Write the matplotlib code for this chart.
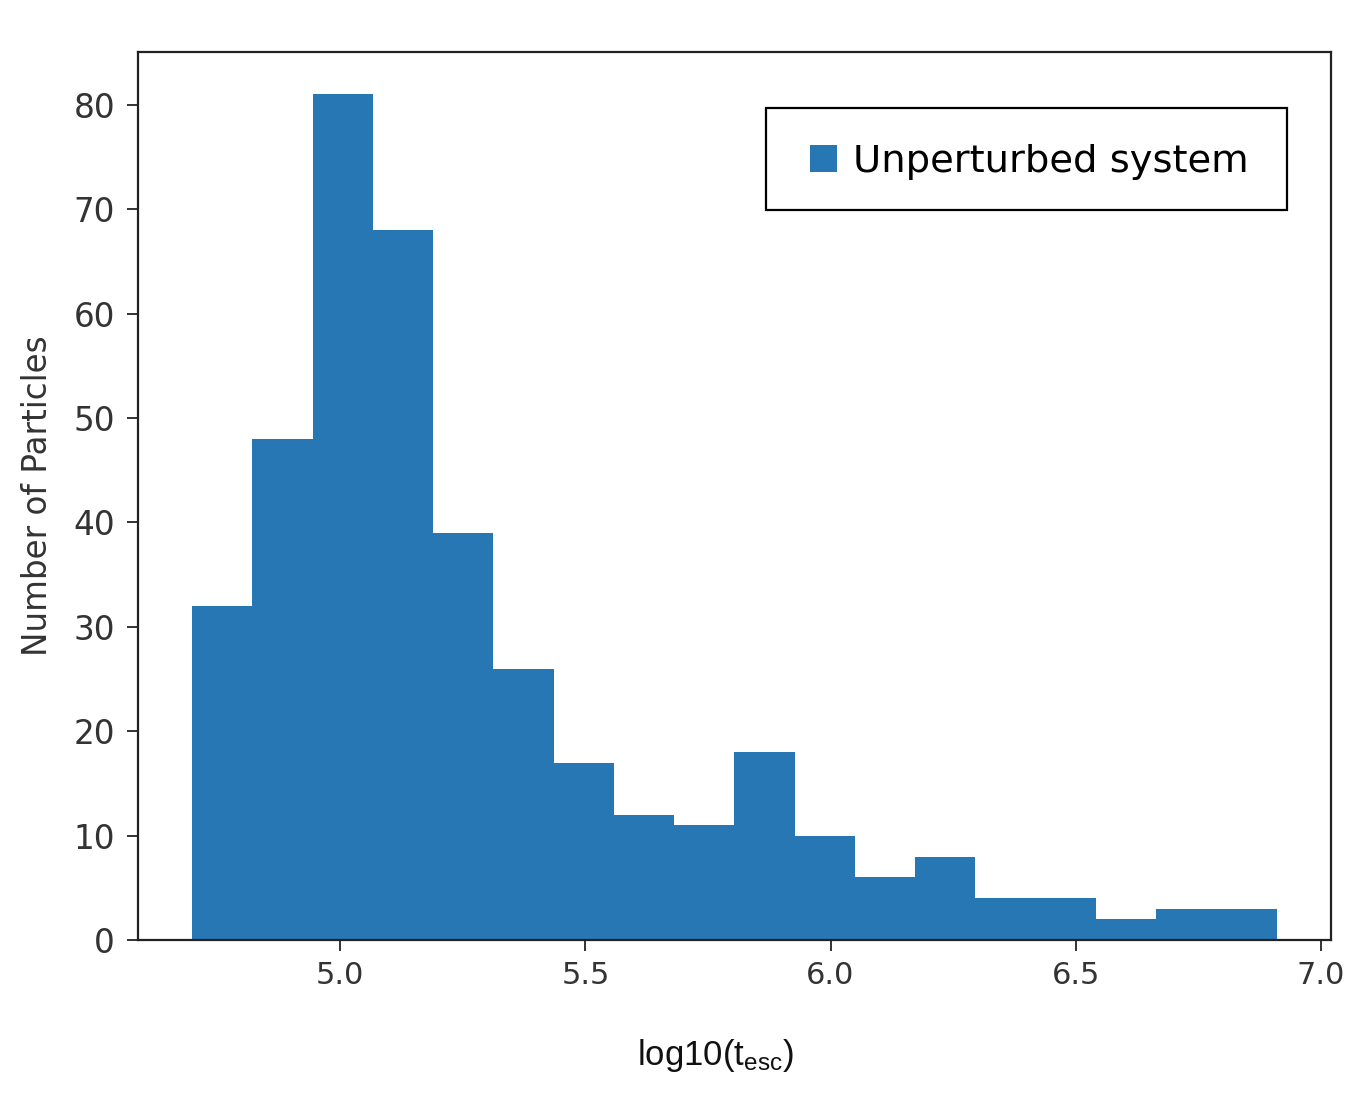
import numpy as np
import matplotlib
matplotlib.use("Agg")
import matplotlib.pyplot as plt
from matplotlib.patches import Rectangle

# Data
bin_lo = 4.698
bin_hi = 6.910
counts = [32, 48, 81, 68, 39, 26, 17, 12, 11, 18, 10, 6, 8, 4, 4, 2, 3, 3]
series_label = "Unperturbed system"
x_ticks = [5.0, 5.5, 6.0, 6.5, 7.0]
y_ticks = [0, 10, 20, 30, 40, 50, 60, 70, 80]

plt.rcParams['mathtext.fontset'] = 'custom'
plt.rcParams['mathtext.rm'] = 'Liberation Sans'
plt.rcParams['mathtext.it'] = 'Liberation Sans'

edges = np.linspace(bin_lo, bin_hi, len(counts) + 1)
centers = (edges[:-1] + edges[1:]) / 2

fig = plt.figure(figsize=(13.7, 10.96), dpi=100)
ax = fig.add_axes([0.1007, 0.1423, 0.8708, 0.8103])

ax.hist(centers, bins=edges, weights=counts, color='#2777b4', label=series_label)

ax.set_xticks(x_ticks)
ax.set_xticklabels([f"{v:.1f}" for v in x_ticks])
ax.set_yticks(y_ticks)
ax.tick_params(axis='both', labelsize=22, colors='#333333', length=8, width=1.4, pad=7)
ax.tick_params(axis='y', labelsize=23.5, pad=8.5)

for s in ax.spines.values():
    s.set_linewidth(1.6)
    s.set_color('#222222')

ax.set_ylabel("Number of Particles", fontsize=23.5, color='#333333', labelpad=14)
ax.set_xlabel(r"log10(t$_{\mathrm{esc}}$)", fontsize=25, family='Liberation Sans', color='#111111')
ax.xaxis.set_label_coords((715 - 138) / 1193, -0.13)
ax.xaxis.label.set_va('center')

# legend frame
ax.add_patch(Rectangle((0.5264, 0.8221), 0.9631 - 0.5264, 0.9369 - 0.8221,
                       transform=ax.transAxes, facecolor='white', edgecolor='black',
                       linewidth=1.6, zorder=4))
leg = ax.legend(loc='center left', bbox_to_anchor=(0.5633, 0.876), fontsize=27.7,
                frameon=False, handlelength=0.7, handleheight=0.7, handletextpad=0.42,
                borderpad=0, borderaxespad=0)
leg.set_zorder(5)

fig.savefig("out.png", dpi=100)
